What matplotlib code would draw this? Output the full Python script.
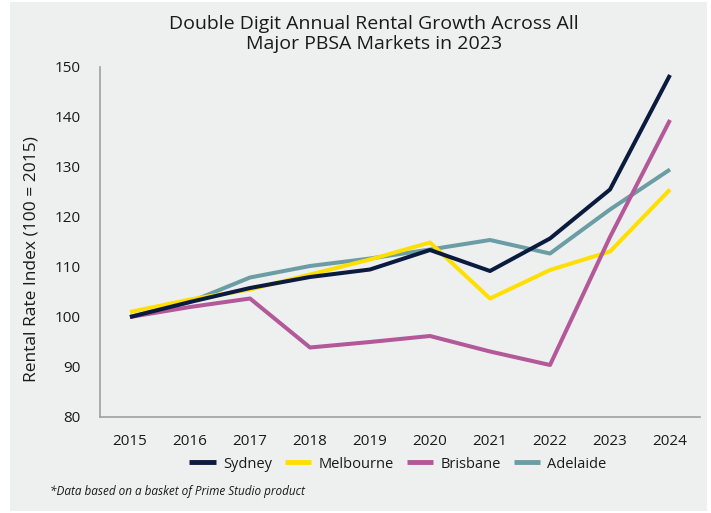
import matplotlib.pyplot as plt
from matplotlib.patches import Rectangle

years = [2015, 2016, 2017, 2018, 2019, 2020, 2021, 2022, 2023, 2024]
sydney = [100, 103.0, 105.8, 108.0, 109.5, 113.4, 109.2, 115.7, 125.5, 148.4]
melbourne = [101, 103.5, 105.5, 108.5, 111.5, 114.9, 103.7, 109.4, 113.1, 125.5]
brisbane = [100, 102.0, 103.7, 93.9, 95.0, 96.2, 93.1, 90.4, 116.0, 139.4]
adelaide = [100, 103.0, 107.9, 110.2, 111.7, 113.5, 115.4, 112.7, 121.5, 129.5]

names = ["Sydney", "Melbourne", "Brisbane", "Adelaide"]
colors = ["#0b1a3f", "#ffdf00", "#b35898", "#6a9ea4"]
layer = [5, 3, 4, 2]

bg = "#eef0ef"
txt = "#1a1a1a"
font = ["Liberation Sans Narrow", "Open Sans", "DejaVu Sans"]

fig = plt.figure(figsize=(7.11, 5.13), dpi=100)
fig.patch.set_facecolor("white")
fig.patches.append(Rectangle((10 / 711, 2 / 513), 697 / 711, 509 / 513,
                             transform=fig.transFigure, facecolor=bg,
                             edgecolor="none", zorder=-5))

ax = fig.add_axes([100 / 711, 1 - 417 / 513, 600 / 711, 350 / 513])
ax.set_facecolor(bg)

x = list(range(len(years)))
for name, vals, c, z in zip(names, [sydney, melbourne, brisbane, adelaide], colors, layer):
    ax.plot(x, vals, color=c, lw=2.9, label=name, zorder=z, solid_capstyle="butt")

ax.set_xlim(-0.5, len(years) - 0.5)
ax.set_ylim(80, 150)
ax.set_yticks(range(80, 151, 10))
ax.set_xticks(x)
ax.set_xticklabels([str(y) for y in years])
ax.tick_params(length=0, labelsize=11, colors=txt, pad=12)
ax.tick_params(axis="y", pad=14)
for lab in ax.get_xticklabels() + ax.get_yticklabels():
    lab.set_family(font)

for s in ["top", "right"]:
    ax.spines[s].set_visible(False)
for s in ["left", "bottom"]:
    ax.spines[s].set_color("#a0a0a0")
    ax.spines[s].set_linewidth(1.2)

fig.text(32 / 711, 1 - 259 / 513, "Rental Rate Index (100 = 2015)", rotation=90,
         ha="center", va="center", fontsize=12.5, color=txt, family="Open Sans")

fig.text(374 / 711, 1 - 34 / 513,
         "Double Digit Annual Rental Growth Across All\nMajor PBSA Markets in 2023",
         ha="center", va="center", fontsize=14, color=txt, family="Open Sans",
         linespacing=1.1)

leg = fig.legend(loc="center", bbox_to_anchor=(398 / 711, 1 - 464 / 513), ncol=4,
                 frameon=False, handlelength=1.8, handletextpad=0.5, columnspacing=0.9,
                 prop={"family": font, "size": 10.5})
for h in leg.get_lines():
    h.set_linewidth(3.5)
for t in leg.get_texts():
    t.set_color(txt)

fig.text(50 / 711, 1 - 492 / 513, "*Data based on a basket of Prime Studio product",
         ha="left", va="center", fontsize=8.5, style="italic", color=txt, family=font)

fig.savefig("out.png", dpi=100, facecolor=fig.get_facecolor())
